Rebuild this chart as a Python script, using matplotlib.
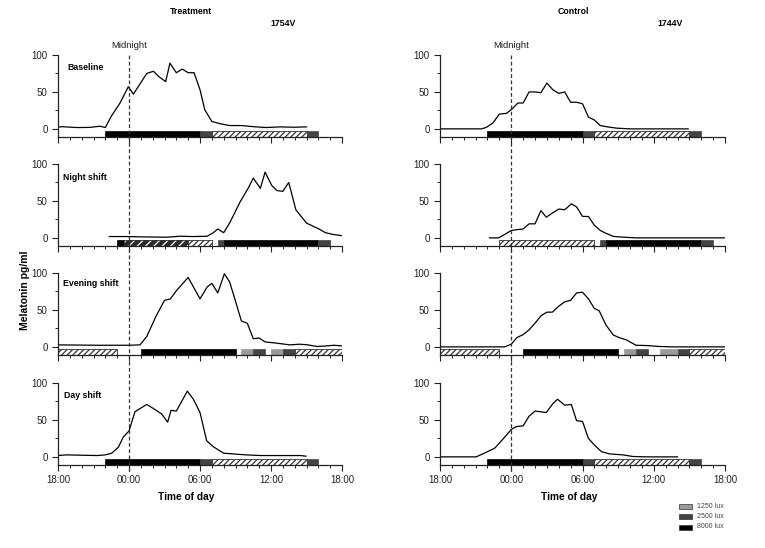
import matplotlib
matplotlib.use("Agg")
import matplotlib.pyplot as plt
from matplotlib.lines import Line2D
from matplotlib.patches import Rectangle
from matplotlib.transforms import blended_transform_factory
from matplotlib.ticker import MultipleLocator

plt.rcParams['font.family'] = ['Liberation Sans', 'DejaVu Sans']
plt.rcParams['hatch.linewidth'] = 0.9

# ---------------- data (hours relative to midnight; -6 = 18:00) ----------------
columns = ["Treatment", "Control"]
subjects = ["1754V", "1744V"]
conditions = ["Baseline", "Night shift", "Evening shift", "Day shift"]
xtick_labels = ["18:00", "00:00", "06:00", "12:00", "18:00"]
xtick_hours = [-6, 0, 6, 12, 18]

# Treatment
t_base_x = [-6.0, -5.7, -4.4, -3.3, -2.45, -2.0, -1.5, -0.76, -0.06, 0.37, 1.5, 2.06, 2.5, 3.1, 3.46, 4.0, 4.5, 5.0, 5.5, 6.0, 6.4, 7.0, 7.7, 8.5, 9.5, 10.5, 11.6, 12.8, 13.9, 15.0]
t_base_y = [2.2, 3.0, 1.8, 2.0, 3.6, 1.8, 17, 35, 57, 47, 75, 78, 71, 64, 89, 76, 81, 76, 76, 53, 26, 10, 7, 4.5, 4.5, 3.0, 1.8, 2.7, 2.2, 2.7]

t_night_x = [-1.66, -0.2, 1.2, 3.2, 4.3, 5.4, 6.6, 7.1, 7.5, 8.0, 8.5, 9.4, 10.1, 10.5, 11.1, 11.5, 12.06, 12.5, 13.0, 13.5, 14.1, 15.0, 16.0, 16.6, 17.3, 18.0]
t_night_y = [1.8, 1.8, 1.3, 0.9, 2.2, 1.8, 2.2, 6.7, 12, 7, 20, 49, 68, 81, 67, 89, 71, 64, 63, 75, 38, 20, 12.5, 7, 4.5, 3]

t_even_x = [-6.0, -2.7, -1.0, 0.0, 0.93, 1.5, 2.3, 3.0, 3.5, 4.0, 5.0, 6.0, 6.6, 7.0, 7.5, 8.06, 8.5, 8.96, 9.5, 10.0, 10.5, 11.0, 11.5, 12.5, 13.6, 14.4, 15.0, 15.9, 16.7, 17.3, 18.0]
t_even_y = [2.7, 2.2, 2.2, 2.2, 2.7, 14, 42, 63, 65, 76, 94, 65, 81, 86, 73, 99, 88, 64, 35, 32, 11, 12, 6.7, 5, 2.7, 3.6, 3, 0.5, 1.3, 2.2, 1.3]

t_day_x = [-6.0, -5.3, -3.9, -2.7, -2.0, -1.46, -0.9, -0.48, 0.0, 0.5, 1.5, 2.3, 2.76, 3.27, 3.55, 4.0, 4.93, 5.44, 6.0, 6.56, 7.1, 8.0, 8.8, 9.9, 11.1, 13.0, 14.5, 14.96]
t_day_y = [1.8, 2.7, 2.2, 1.8, 2.7, 5, 13, 27, 35, 61, 71, 63, 58, 47, 63, 62, 89, 78, 60, 22, 14, 5, 4, 2.7, 1.8, 1.8, 1.8, 0.9]

# Control
c_base_x = [-6.0, -2.5, -2.1, -1.55, -1.0, -0.4, 0.0, 0.56, 1.0, 1.5, 2.0, 2.5, 3.0, 3.5, 4.0, 4.5, 5.0, 5.5, 6.0, 6.5, 7.0, 7.5, 8.0, 8.85, 10.0, 14.9]
c_base_y = [0, 0, 2, 8, 20, 21, 26, 35, 35, 50, 50, 49, 62, 53, 48, 50, 36, 36, 34, 16, 12, 4.5, 3, 1, 0, 0]

c_night_x = [-1.83, -1.07, -0.56, 0.0, 0.42, 1.0, 1.5, 2.0, 2.5, 2.95, 3.5, 4.0, 4.5, 5.06, 5.5, 6.0, 6.5, 7.0, 7.5, 8.0, 8.6, 9.1, 10.5, 18.0]
c_night_y = [0, 0, 4.5, 10, 11, 12, 19, 19, 37, 28, 34, 39, 38, 46, 42, 29, 29, 17, 10, 6, 2, 1.3, 0, 0]

c_even_x = [-6.0, -0.56, 0.0, 0.48, 1.0, 1.5, 2.0, 2.5, 3.0, 3.46, 4.0, 4.5, 5.0, 5.5, 6.0, 6.5, 7.0, 7.4, 8.0, 8.6, 9.1, 9.7, 10.5, 11.4, 12.5, 13.6, 18.0]
c_even_y = [0, 0, 3.6, 12.6, 16.6, 23, 32, 42, 47, 47, 55, 61, 63, 73, 74, 65, 52, 49, 29, 16, 12.5, 9.4, 2.2, 1.8, 0.5, 0, 0]

c_day_x = [-6.0, -2.95, -2.1, -1.4, -0.7, 0.0, 0.42, 1.0, 1.5, 2.0, 2.5, 2.95, 3.5, 3.9, 4.5, 5.06, 5.5, 6.0, 6.5, 7.0, 7.6, 8.3, 9.4, 10.25, 11.4, 14.0]
c_day_y = [0, 0, 6.3, 11.7, 24, 37, 41, 42, 55, 62, 61, 60, 72, 78, 70, 71, 49, 48, 25, 16, 7, 4, 2.7, 0.5, 0, 0]

curves = [
    [(t_base_x, t_base_y), (t_night_x, t_night_y), (t_even_x, t_even_y), (t_day_x, t_day_y)],
    [(c_base_x, c_base_y), (c_night_x, c_night_y), (c_even_x, c_even_y), (c_day_x, c_day_y)],
]

# Light schedule: (start, end, type) ; 'k' 8000 lux, 'dg' 2500 lux, 'lg' 1250 lux, 'h' dim (hatched), 'hd' hatched dark
sched_day = [(-2, 6, 'k'), (6, 7, 'dg'), (7, 15, 'h'), (15, 16, 'dg')]
t_sched_night = [(-1, -0.4, 'k'), (-0.4, 5.0, 'hd'), (5.0, 7, 'h'), (7.5, 8, 'dg'), (8, 16, 'k'), (16, 17, 'dg')]
c_sched_night = [(-1, 7, 'h'), (7.5, 8, 'dg'), (8, 16, 'k'), (16, 17, 'dg')]
t_sched_even = [(-6, -1, 'h'), (1, 9, 'k'), (9.5, 10.5, 'lg'), (10.5, 11.5, 'dg'), (12, 13, 'lg'), (13, 14, 'dg'), (14, 18, 'h')]
c_sched_even = [(-6, -1, 'h'), (1, 9, 'k'), (9.5, 10.5, 'lg'), (10.5, 11.5, 'dg'), (12.5, 14, 'lg'), (14, 15, 'dg'), (15, 18, 'h')]
schedules = [
    [sched_day, t_sched_night, t_sched_even, sched_day],
    [sched_day, c_sched_night, c_sched_even, sched_day],
]

legend_labels = ["1250 lux", "2500 lux", "8000 lux"]
LG, DG, BK = "#9a9a9a", "#444444", "#000000"

# ---------------- figure ----------------
W, H = 765, 548
fig = plt.figure(figsize=(W / 100, H / 100), dpi=100)

col_px = [(58, 342), (440, 725)]
row_px = [(55, 137), (164, 246), (273, 355), (383, 465)]

axes = [[None] * 4 for _ in range(2)]
for c in range(2):
    for r in range(4):
        x0, x1 = col_px[c]
        y0, y1 = row_px[r]
        ax = fig.add_axes([x0 / W, 1 - y1 / H, (x1 - x0) / W, (y1 - y0) / H])
        axes[c][r] = ax
        ax.set_xlim(-6, 18)
        ax.set_ylim(-11, 100)
        for s in ("top", "right"):
            ax.spines[s].set_visible(False)
        for s in ("left", "bottom"):
            ax.spines[s].set_linewidth(0.9)
            ax.spines[s].set_color("#222222")
        ax.set_xticks(xtick_hours)
        ax.xaxis.set_minor_locator(MultipleLocator(1))
        ax.set_yticks([0, 50, 100])
        ax.yaxis.set_minor_locator(MultipleLocator(25))
        ax.spines["left"].set_bounds(-11, 100)
        ax.tick_params(which="major", direction="out", length=4, width=0.8, colors="#222222", labelsize=7)
        ax.tick_params(which="minor", direction="out", length=2, width=0.7, colors="#222222")
        if r < 3:
            ax.set_xticklabels([])
        else:
            ax.set_xticklabels(xtick_labels)
        ax.patch.set_alpha(0)

        xs, ys = curves[c][r]
        ax.plot(xs, ys, color="black", lw=0.9)

        for (a, b, kind) in schedules[c][r]:
            yb, hgt = -11, 7.5
            if kind == 'k':
                ax.add_patch(Rectangle((a, yb), b - a, hgt, facecolor=BK, edgecolor=BK, lw=0.5))
            elif kind == 'dg':
                ax.add_patch(Rectangle((a, yb), b - a, hgt, facecolor=DG, edgecolor=DG, lw=0.5))
            elif kind == 'lg':
                ax.add_patch(Rectangle((a, yb), b - a, hgt, facecolor=LG, edgecolor=LG, lw=0.5))
            elif kind == 'h':
                ax.add_patch(Rectangle((a, yb), b - a, hgt, facecolor="white", edgecolor="#333333", hatch="//////", lw=0.6))
            elif kind == 'hd':
                ax.add_patch(Rectangle((a, yb), b - a, hgt, facecolor="#2a2a2a", edgecolor="white", hatch="////", lw=0))
                ax.add_patch(Rectangle((a, yb), b - a, hgt, facecolor="none", edgecolor="#333333", lw=0.6))

# Panel labels
label_pos = [(67, 67), (63, 178), (63, 283), (64, 395)]
for r, name in enumerate(conditions):
    fig.text(label_pos[r][0] / W, 1 - label_pos[r][1] / H, name, fontsize=6.3, fontweight="bold", va="center", ha="left")

# Titles
fig.text(191 / W, 1 - 11 / H, columns[0], fontsize=6.3, fontweight="bold", ha="center", va="center")
fig.text(283 / W, 1 - 24 / H, subjects[0], fontsize=6.3, fontweight="bold", ha="center", va="center")
fig.text(573 / W, 1 - 11 / H, columns[1], fontsize=6.3, fontweight="bold", ha="center", va="center")
fig.text(670 / W, 1 - 24 / H, subjects[1], fontsize=6.3, fontweight="bold", ha="center", va="center")

# Midnight lines and labels
for c in range(2):
    ax = axes[c][0]
    tr = blended_transform_factory(ax.transData, fig.transFigure)
    fig.add_artist(Line2D([0, 0], [1 - 55 / H, 1 - 473 / H], transform=tr, color="#333333",
                          lw=0.9, linestyle=(0, (3, 2))))
    ax.text(0, 1 - 45 / H, "Midnight", transform=tr, fontsize=6.8, ha="center", va="center", color="#222222")

# Axis labels
fig.text(25 / W, 1 - 290 / H, "Melatonin pg/ml", rotation=90, fontsize=7.5, fontweight="bold", ha="center", va="center")
fig.text(186 / W, 1 - 497 / H, "Time of day", fontsize=7.3, fontweight="bold", ha="center", va="center")
fig.text(569 / W, 1 - 497 / H, "Time of day", fontsize=7.3, fontweight="bold", ha="center", va="center")

# Legend
leg_colors = [LG, DG, BK]
leg_y = [506, 516, 527]
for lab, col, yy in zip(legend_labels, leg_colors, leg_y):
    fig.add_artist(Rectangle((679 / W, 1 - (yy + 2.5) / H), 13 / W, 5 / H, transform=fig.transFigure,
                             facecolor=col, edgecolor="#333333", lw=0.5))
    fig.text(697 / W, 1 - yy / H, lab, fontsize=5, ha="left", va="center", color="#444444")

fig.savefig("out.png", dpi=100)
